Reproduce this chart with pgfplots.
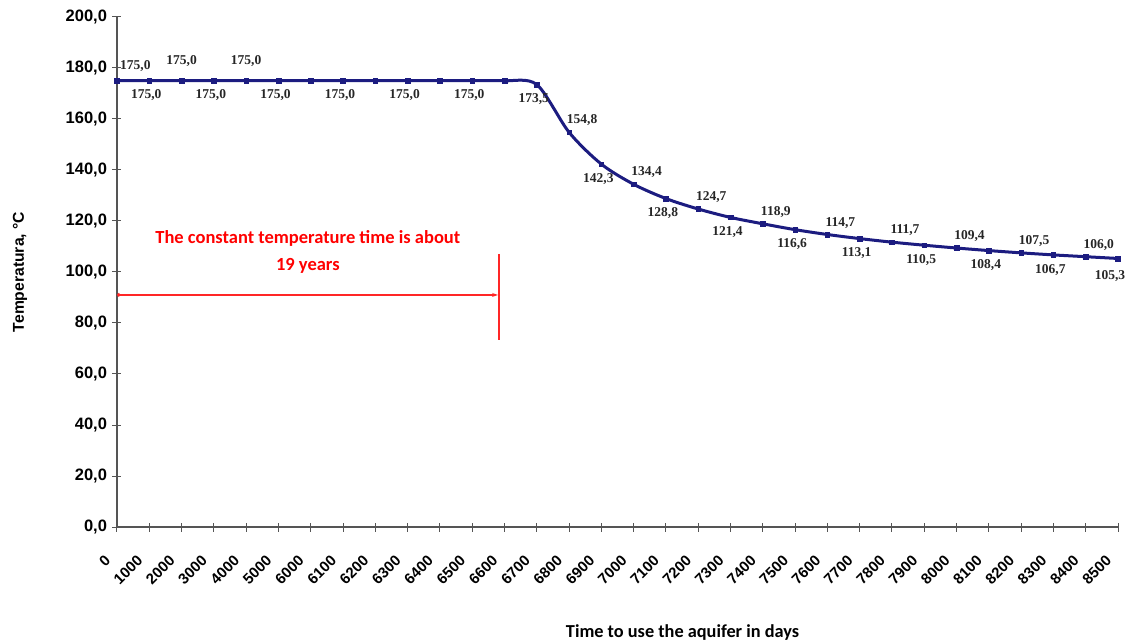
\documentclass[border=0pt]{standalone}
\usepackage{fontspec}
\setmainfont{Liberation Sans}
\newfontfamily\serifnum{Liberation Serif}
\newfontfamily\calibri{Carlito}
\usepackage{pgfplots}
\usepackage{pgfplotstable}
\pgfplotsset{compat=1.18}
\usetikzlibrary{arrows.meta}
\definecolor{navy}{RGB}{28,28,128}
\definecolor{axgray}{RGB}{85,85,85}

\pgfplotstableread{
x y
0 175.0
1 175.0
2 175.0
3 175.0
4 175.0
5 175.0
6 175.0
7 175.0
8 175.0
9 175.0
10 175.0
11 175.0
12 175.0
13 173.5
14 154.8
15 142.3
16 134.4
17 128.8
18 124.7
19 121.4
20 118.9
21 116.6
22 114.7
23 113.1
24 111.7
25 110.5
26 109.4
27 108.4
28 107.5
29 106.7
30 106.0
31 105.3
}\datatable

\pgfplotstableread{
x y
0 175.0
}\abovezero

\pgfplotstableread{
x y
2 175.0
4 175.0
}\aboveflat

\pgfplotstableread{
x y
14 154.8
16 134.4
18 124.7
20 118.9
22 114.7
24 111.7
26 109.4
28 107.5
30 106.0
}\aboveright

\pgfplotstableread{
x y
1 175.0
3 175.0
5 175.0
7 175.0
9 175.0
11 175.0
13 173.5
15 142.3
17 128.8
19 121.4
21 116.6
23 113.1
25 110.5
27 108.4
29 106.7
}\belowlab

\pgfplotstableread{
x y
31 105.3
}\belowlast

\begin{document}
\begin{tikzpicture}
\useasboundingbox (-117bp,-116bp) rectangle (1011bp,527bp);
\begin{axis}[
  at={(0,0)}, anchor=south west,
  scale only axis, width=1001bp, height=510bp,
  xmin=0, xmax=31, ymin=0, ymax=200,
  clip=false,
  axis x line=bottom, axis y line=left,
  axis line style={-, axgray, line width=1.3bp},
  xtick={0,...,31},
  xticklabels={0,1000,2000,3000,4000,5000,6000,6100,6200,6300,6400,6500,6600,6700,6800,6900,7000,7100,7200,7300,7400,7500,7600,7700,7800,7900,8000,8100,8200,8300,8400,8500},
  ytick={0,20,...,200},
  tick align=center, major tick length=9bp,
  tick style={axgray, line width=1bp},
  /pgf/number format/fixed,
  /pgf/number format/fixed zerofill,
  /pgf/number format/precision=1,
  /pgf/number format/use comma,
  /pgf/number format/assume math mode=true,
  yticklabel style={font=\fontsize{16.5bp}{18bp}\selectfont\bfseries, text=black, xshift=-2bp},
  xticklabel style={font=\fontsize{15bp}{17bp}\selectfont\bfseries, text=black, xshift=-7bp, yshift=-24bp, rotate=45, anchor=east},
  xlabel={Time to use the aquifer in days},
  xlabel style={font=\calibri\bfseries\fontsize{18.3bp}{20bp}\selectfont, at={(axis description cs:0.565,-0.206)}, anchor=center},
  ylabel={Temperatura, °C},
  ylabel style={font=\bfseries\fontsize{15.7bp}{18bp}\selectfont, at={(axis description cs:-0.097,0.5)}, anchor=center},
]
\addplot[navy, line width=3bp, smooth, tension=0.5, mark=square*, mark size=2.3bp, mark options={solid, fill=navy, line width=0.5bp}] table {\datatable};

\addplot[draw=none, mark=none, nodes near coords, point meta=y,
  every node near coord/.append style={font=\serifnum\bfseries\fontsize{13.5bp}{16bp}\selectfont, text=black!85, anchor=south west, inner sep=0pt, xshift=3bp, yshift=9bp}] table {\abovezero};
\addplot[draw=none, mark=none, nodes near coords, point meta=y,
  every node near coord/.append style={font=\serifnum\bfseries\fontsize{13.5bp}{16bp}\selectfont, text=black!85, anchor=south, inner sep=0pt, yshift=14bp}] table {\aboveflat};
\addplot[draw=none, mark=none, nodes near coords, point meta=y,
  every node near coord/.append style={font=\serifnum\bfseries\fontsize{13.5bp}{16bp}\selectfont, text=black!85, anchor=south, inner sep=0pt, xshift=13bp, yshift=6bp}] table {\aboveright};
\addplot[draw=none, mark=none, nodes near coords, point meta=y,
  every node near coord/.append style={font=\serifnum\bfseries\fontsize{13.5bp}{16bp}\selectfont, text=black!85, anchor=north, inner sep=0pt, xshift=-3bp, yshift=-9bp}] table {\belowlab};
\addplot[draw=none, mark=none, nodes near coords, point meta=y,
  every node near coord/.append style={font=\serifnum\bfseries\fontsize{13.5bp}{16bp}\selectfont, text=black!85, anchor=north, inner sep=0pt, xshift=-8bp, yshift=-12bp}] table {\belowlast};

\node[font=\calibri\bfseries\fontsize{18.5bp}{27bp}\selectfont, text=red, align=center] at (axis cs:5.91,108) {The constant temperature time is about\\19 years};
\draw[red!85, line width=1.3bp, {Circle[length=3.5bp]}-{Stealth[length=6bp,width=4bp]}] (axis cs:0,91) -- (axis cs:11.8,91);
\draw[red!85, line width=1.3bp] (axis cs:11.83,107.1) -- (axis cs:11.83,73.3);
\end{axis}
\end{tikzpicture}
\end{document}
